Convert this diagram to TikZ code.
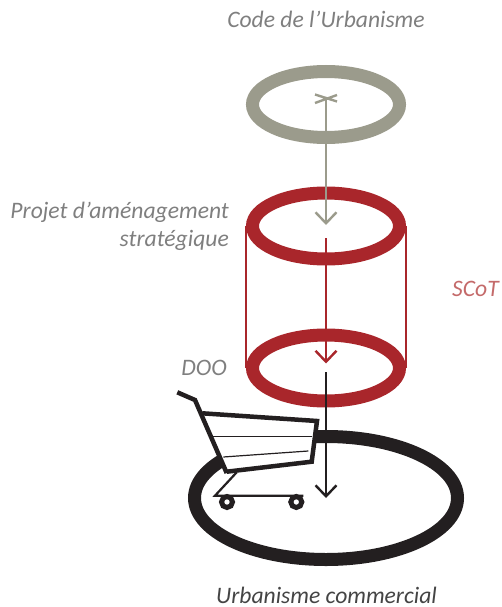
\documentclass[tikz,border=0pt]{standalone}
\usepackage{fontspec}
\setmainfont{Carlito}
\usetikzlibrary{shapes.geometric,arrows.meta}
\definecolor{ringgrey}{HTML}{9B9B8C}
\definecolor{ringred}{HTML}{A9262B}
\definecolor{ringblack}{HTML}{231F20}
\definecolor{labelgrey}{HTML}{7F7F7F}
\definecolor{labelred}{HTML}{C46A6A}
\definecolor{labeldark}{HTML}{444444}
\tikzset{
  ring/.style={ellipse,draw,line width=13pt,inner sep=0pt,outer sep=0pt,minimum width=147pt,minimum height=66pt},
  bigring/.style={ring,minimum width=263pt,minimum height=123pt},
  label/.style={font=\itshape\fontsize{23.6pt}{28pt}\selectfont,text=labelgrey,inner sep=0pt},
  connector/.style={line width=2pt,-{Straight Barb[length=11pt,width=21pt,line width=2.4pt]}},
  cartline/.style={ringblack,line width=4.5pt,line join=miter},
  thinline/.style={ringblack,line width=1.2pt},
}
\begin{document}
\begin{tikzpicture}[x=1pt,y=-1pt]
\useasboundingbox (0,0) rectangle (501,607);
% rings
\node[bigring,draw=ringblack] (base) at (326,498) {};
\node[ring,draw=ringgrey] (code) at (326,104.5) {};
\node[ring,draw=ringred] (projet) at (326,226) {};
\node[ring,draw=ringred] (doo) at (326,368) {};
\draw[ringred,line width=2pt] (projet.west) ++(-6.5,0) -- ([xshift=-6.5pt]doo.west);
\draw[ringred,line width=2pt] (projet.east) ++(6.5,0) -- ([xshift=6.5pt]doo.east);
% connectors
\coordinate (a1) at (326,98.5);
\coordinate (a2) at (326,225);
\coordinate (b1) at (326,238);
\coordinate (b2) at (326,363.5);
\coordinate (c1) at (326,372);
\coordinate (c2) at (326,498);
\draw[connector,ringgrey] (a1) -- (a2);
\draw[ringgrey,line width=2.4pt] (315,94.5) -- (337,101.5) (315,103) -- (337,95);
\draw[connector,ringred] (b1) -- (b2);
\draw[connector,ringblack] (c1) -- (c2);
% cart
\fill[white] (202.3,413.3) -- (317,421) -- (311.7,461.7) -- (226.7,471.7) -- cycle;
\draw[thinline] (213.3,436.3) -- (311.7,436.3);
\draw[thinline] (223.3,457) -- (308.3,451);
\draw[cartline] (202.3,413.3) -- (317,421) -- (311.7,461.7) -- (226.7,471.7);
\draw[cartline] (177.3,392.3) -- (195,400) -- (226.7,473);
\draw[ringblack,line width=2.2pt] (236.7,472.3) -- (215,495.7) -- (303.3,495.7);
\draw[ringblack,line width=5pt] (227,502) circle (5.5);
\draw[ringblack,line width=5pt] (296.3,502) circle (5.5);
% labels
\node[label,anchor=base] (t1) at (326,28) {Code de l’Urbanisme};
\node[label,anchor=base east] (t2) at (229,218) {Projet d’aménagement};
\node[label,anchor=base east] (t3) at (229,246.5) {stratégique};
\node[label,anchor=base east] (t4) at (227,375) {DOO};
\node[label,text=labelred,anchor=base east] (t5) at (499,296) {SCoT};
\node[label,text=labeldark,anchor=base] (t6) at (326.5,603) {Urbanisme commercial};
\end{tikzpicture}
\end{document}
